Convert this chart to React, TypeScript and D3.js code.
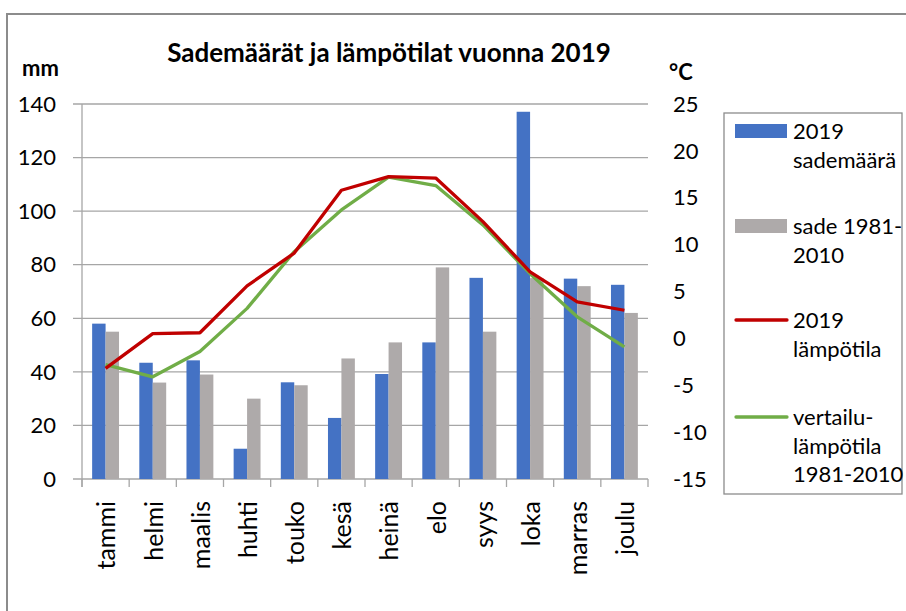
import React, { useRef, useEffect } from "react";
import * as d3 from "d3";

const months = ["tammi", "helmi", "maalis", "huhti", "touko", "kesä", "heinä", "elo", "syys", "loka", "marras", "joulu"];
const rain2019 = [58, 43.4, 44.3, 11.3, 36.1, 22.8, 39.2, 51, 75.1, 137.1, 74.8, 72.5];
const rainNormal = [55, 36, 39, 30, 35, 45, 51, 79, 55, 75, 72, 62];
const temp2019 = [-3.2, 0.5, 0.6, 5.6, 9.1, 15.8, 17.25, 17.1, 12.45, 7.1, 3.9, 3.0];
const tempNormal = [-2.8, -4.1, -1.4, 3.2, 9.25, 13.7, 17.2, 16.3, 12.1, 6.9, 2.3, -0.9];
const mmTicks = [0, 20, 40, 60, 80, 100, 120, 140];
const cTicks = [-15, -10, -5, 0, 5, 10, 15, 20, 25];

const legendItems = [
  { kind: "bar", color: "#4472C4", lines: ["2019", "sademäärä"] },
  { kind: "bar", color: "#AEAAAA", lines: ["sade 1981-", "2010"] },
  { kind: "line", color: "#C00000", lines: ["2019", "lämpötila"] },
  { kind: "line", color: "#70AD47", lines: ["vertailu-", "lämpötila", "1981-2010"] },
];

const FONT = "Lato, 'Open Sans', sans-serif";

const App = () => {
  const svgRef = useRef<SVGSVGElement>(null);

  useEffect(() => {
    const svg = d3.select(svgRef.current);
    svg.selectAll("*").remove();

    const left = 82, right = 648, top = 104, bottom = 479;

    const x = d3.scaleBand().domain(months).range([left, right]);
    const yMm = d3.scaleLinear().domain([0, 140]).range([bottom, top]);
    const yC = d3.scaleLinear().domain([-15, 25]).range([bottom, top]);
    const barW = x.bandwidth() * 0.285;

    // outer frame
    svg.append("rect")
      .attr("x", 7).attr("y", 14).attr("width", 920).attr("height", 620)
      .attr("fill", "none").attr("stroke", "#8c8c8c").attr("stroke-width", 2);

    // title and unit labels
    svg.append("text")
      .attr("x", 389).attr("y", 62).attr("text-anchor", "middle")
      .style("font-family", FONT).style("font-weight", "bold").style("font-size", "26px")
      .text("Sademäärät ja lämpötilat vuonna 2019");
    svg.append("text")
      .attr("x", 22).attr("y", 76)
      .style("font-family", FONT).style("font-weight", "bold").style("font-size", "22px")
      .text("mm");
    svg.append("text")
      .attr("x", 669).attr("y", 80)
      .style("font-family", FONT).style("font-weight", "bold").style("font-size", "22px")
      .text("°C");

    // gridlines + left ticks
    const grid = svg.append("g");
    mmTicks.forEach(t => {
      grid.append("line")
        .attr("x1", 73).attr("x2", right)
        .attr("y1", yMm(t)).attr("y2", yMm(t))
        .attr("stroke", "#a6a6a6").attr("stroke-width", 1.3);
    });
    grid.append("line")
      .attr("x1", left).attr("x2", left).attr("y1", top).attr("y2", bottom + 8)
      .attr("stroke", "#a6a6a6").attr("stroke-width", 1.3);
    months.concat(["end"]).forEach((m, i) => {
      const xx = left + i * x.step();
      grid.append("line")
        .attr("x1", xx).attr("x2", xx).attr("y1", bottom).attr("y2", bottom + 8)
        .attr("stroke", "#a6a6a6").attr("stroke-width", 1.3);
    });

    // left axis labels
    svg.append("g").selectAll("text")
      .data(mmTicks)
      .join("text")
      .attr("x", 56).attr("y", d => yMm(d))
      .attr("dy", "0.35em").attr("text-anchor", "end")
      .style("font-family", FONT).style("font-size", "22px")
      .text(d => d);

    // right axis labels
    svg.append("g").selectAll("text")
      .data(cTicks)
      .join("text")
      .attr("x", 673).attr("y", d => yC(d))
      .attr("dy", "0.35em")
      .style("font-family", FONT).style("font-size", "22px")
      .text(d => d);

    // bars
    svg.append("g").selectAll("rect")
      .data(months)
      .join("rect")
      .attr("x", d => x(d)! + x.bandwidth() / 2 - barW)
      .attr("y", (d, i) => yMm(rain2019[i]))
      .attr("width", barW)
      .attr("height", (d, i) => bottom - yMm(rain2019[i]))
      .attr("fill", "#4472C4");
    svg.append("g").selectAll("rect")
      .data(months)
      .join("rect")
      .attr("x", d => x(d)! + x.bandwidth() / 2)
      .attr("y", (d, i) => yMm(rainNormal[i]))
      .attr("width", barW)
      .attr("height", (d, i) => bottom - yMm(rainNormal[i]))
      .attr("fill", "#AEAAAA");

    // temperature lines
    const line = d3.line<number>()
      .x((d, i) => x(months[i])! + x.bandwidth() / 2)
      .y(d => yC(d));
    svg.append("path").datum(tempNormal)
      .attr("d", line).attr("fill", "none")
      .attr("stroke", "#70AD47").attr("stroke-width", 3.3).attr("stroke-linejoin", "round");
    svg.append("path").datum(temp2019)
      .attr("d", line).attr("fill", "none")
      .attr("stroke", "#C00000").attr("stroke-width", 3.3).attr("stroke-linejoin", "round");

    // month labels
    svg.append("g").selectAll("text")
      .data(months)
      .join("text")
      .attr("transform", d => `translate(${x(d)! + x.bandwidth() / 2 + 1},501) rotate(-90)`)
      .attr("text-anchor", "end").attr("dy", "0.35em")
      .style("font-family", FONT).style("font-size", "25px")
      .text(d => d);

    // legend
    const lg = svg.append("g");
    lg.append("rect")
      .attr("x", 724).attr("y", 113).attr("width", 178).attr("height", 381)
      .attr("fill", "#fff").attr("stroke", "#8c8c8c").attr("stroke-width", 1.3);
    const itemY = [131, 226, 320, 417];
    legendItems.forEach((it, i) => {
      const cy = itemY[i];
      if (it.kind === "bar") {
        lg.append("rect").attr("x", 735).attr("y", cy - 7).attr("width", 52).attr("height", 14).attr("fill", it.color);
      } else {
        lg.append("line").attr("x1", 736).attr("x2", 787).attr("y1", cy).attr("y2", cy)
          .attr("stroke", it.color).attr("stroke-width", 3.3).attr("stroke-linecap", "round");
      }
      it.lines.forEach((t, j) => {
        lg.append("text")
          .attr("x", 793).attr("y", cy + 8 + j * 28.5)
          .style("font-family", FONT).style("font-size", "22px")
          .text(t);
      });
    });
  }, []);

  return (
    <svg ref={svgRef} width={906} height={611}
      style={{ position: "absolute", left: 0, top: 0, background: "#fff" }} />
  );
};

export default App;
